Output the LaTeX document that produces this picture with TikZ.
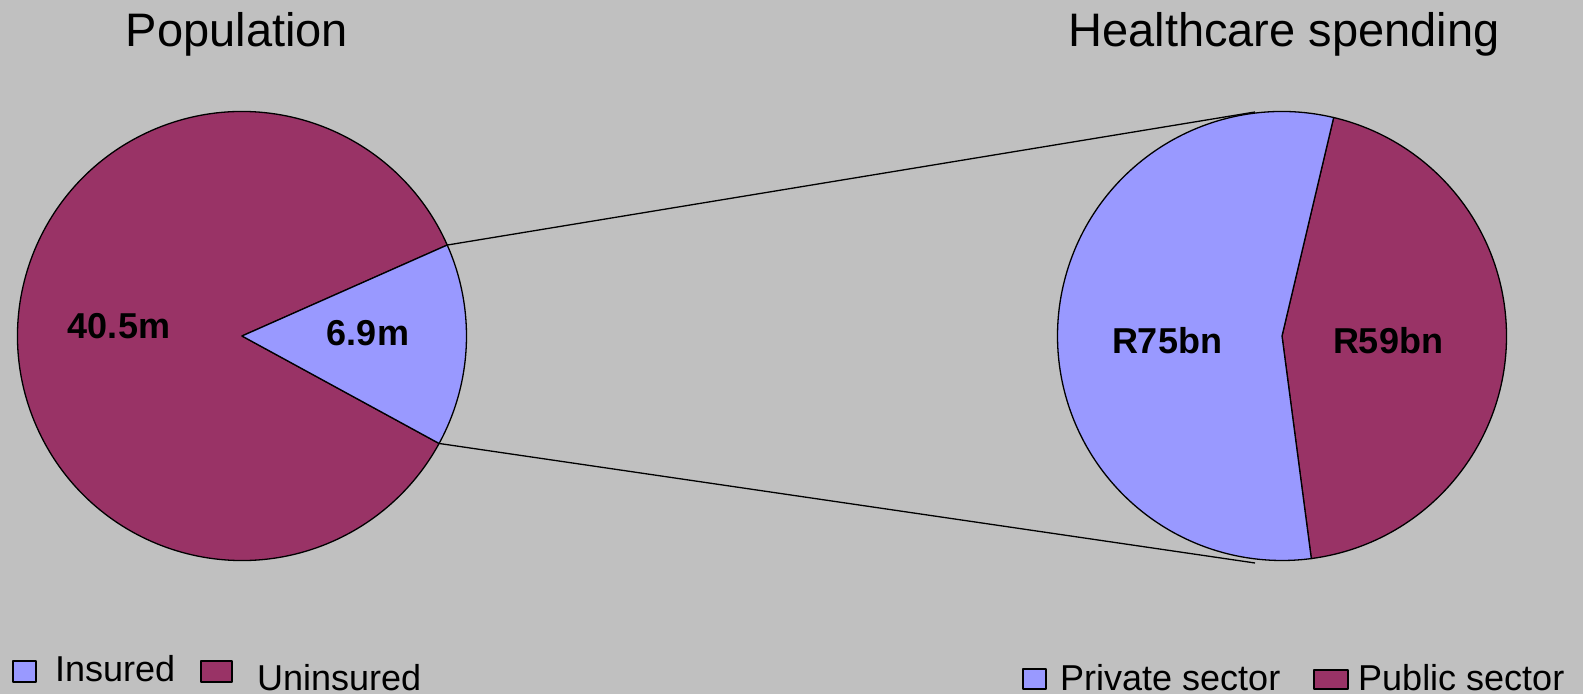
\documentclass[tikz,border=0pt]{standalone}
\usepackage{fontspec}
\setmainfont{Liberation Sans}
\definecolor{bg}{HTML}{C0C0C0}
\definecolor{insured}{HTML}{9999FF}
\definecolor{uninsured}{HTML}{993366}
\newcommand{\rad}{224.5pt}
\newcommand{\titlefont}{\fontsize{47}{56}\selectfont}
\newcommand{\labelfont}{\fontsize{36}{43}\selectfont}

\begin{document}
\begin{tikzpicture}[x=1pt,y=1pt,line join=round,
    slice/.style={draw=black,line width=1.3pt},
    val/.style={anchor=base,inner sep=0pt,font=\labelfont\bfseries},
    key/.style={anchor=base west,inner sep=0pt,font=\labelfont}]
      \fill[bg] (0,0) rectangle (1583,694);
      \useasboundingbox (0,0) rectangle (1583,694);
      \coordinate (pop) at (242,358);
      \coordinate (hcs) at (1282,358);
      % population pie
      \fill[uninsured,slice] (pop) -- ++(23.9:\rad)
        arc[start angle=23.9,end angle=331.4,radius=\rad] -- cycle;
      \fill[insured,slice] (pop) -- ++(-28.6:\rad)
        arc[start angle=-28.6,end angle=23.9,radius=\rad] -- cycle;
      \path (pop) ++(23.9:\rad) coordinate (popTop);
      \path (pop) ++(-28.6:\rad) coordinate (popBot);
      % spending pie
      \fill[uninsured,slice] (hcs) -- ++(-82.5:\rad)
        arc[start angle=-82.5,end angle=76.7,radius=\rad] -- cycle;
      \fill[insured,slice] (hcs) -- ++(76.7:\rad)
        arc[start angle=76.7,end angle=277.5,radius=\rad] -- cycle;
      \coordinate (hcsTop) at (1255,582);
      \coordinate (hcsBot) at (1255,131);
      \draw[line width=1.3pt] (popTop) -- (hcsTop);
      \draw[line width=1.3pt] (popBot) -- (hcsBot);
      % titles and values
      \node[anchor=base,inner sep=0pt,font=\titlefont] (popTitle) at (237,647) {Population};
      \node[anchor=base,inner sep=0pt,font=\titlefont] (hcsTitle) at (1284,647) {Healthcare spending};
      \node[val] (uninsVal) at (119,355) {40.5m};
      \node[val] (insVal) at (368,348) {6.9m};
      \node[val] (privVal) at (1167,340) {R75bn};
      \node[val] (pubVal) at (1388,340) {R59bn};
      % legends
      \draw[fill=insured,line width=1.3pt] (13,12) rectangle (36,33);
      \node[key] (insKey) at (55,13) {Insured};
      \draw[fill=uninsured,line width=1.3pt] (201,12) rectangle (232,33);
      \node[key] (uninsKey) at (257,4) {Uninsured};
      \draw[fill=insured,line width=1.3pt] (1023,5) rectangle (1046,25);
      \node[key] (privKey) at (1060,4) {Private sector};
      \draw[fill=uninsured,line width=1.3pt] (1314,5) rectangle (1348,24);
      \node[key] (pubKey) at (1358,4) {Public sector};
\end{tikzpicture}
\end{document}
